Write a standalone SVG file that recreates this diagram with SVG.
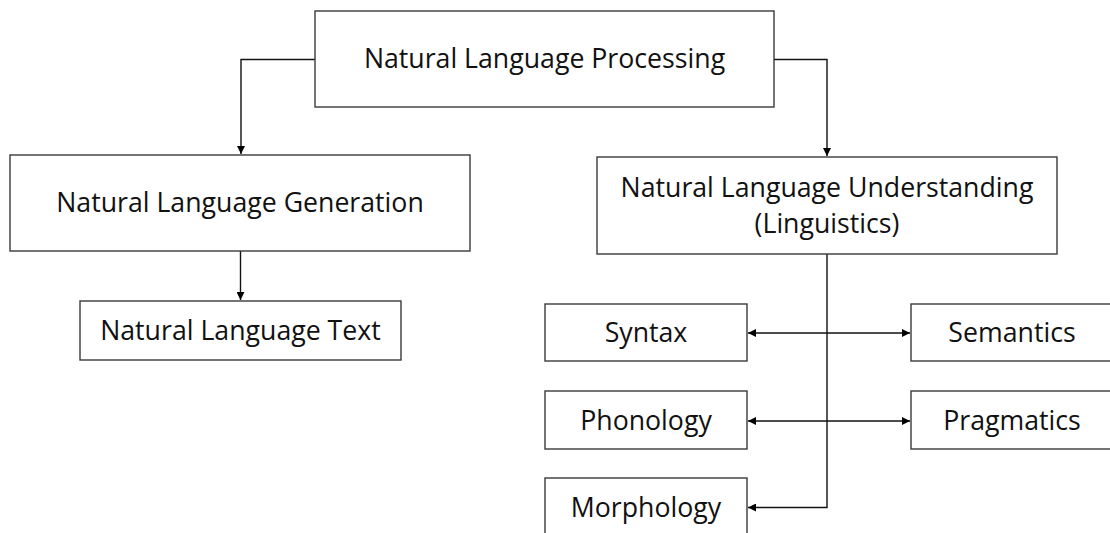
<svg xmlns="http://www.w3.org/2000/svg" width="1110" height="533" viewBox="0 0 1110 533">
<defs>
<marker id="arr" viewBox="0 0 10 10" refX="10" refY="5" markerWidth="9" markerHeight="8" markerUnits="userSpaceOnUse" orient="auto-start-reverse">
<path d="M0,0 L10,5 L0,10 z" fill="#000"/>
</marker>
<style>
.box{fill:#fff;stroke:#3a3a3a;stroke-width:1.4}
.t{font-family:"Open Sans","Liberation Sans",sans-serif;font-size:26.7px;fill:#111;text-anchor:middle}
.c{fill:none;stroke:#111;stroke-width:1.4}
</style>
</defs>
<rect width="1110" height="533" fill="#fff"/>
<g id="connectors">
<path class="c" d="M315,59.5 H241 V154" marker-end="url(#arr)"/>
<path class="c" d="M774,59.5 H827 V156" marker-end="url(#arr)"/>
<path class="c" d="M240.5,251 V300" marker-end="url(#arr)"/>
<path class="c" d="M827,254 V507.5 H748" marker-end="url(#arr)"/>
<path class="c" d="M748,333 H910" marker-start="url(#arr)" marker-end="url(#arr)"/>
<path class="c" d="M748,421 H910" marker-start="url(#arr)" marker-end="url(#arr)"/>
</g>
<g id="nlp"><rect class="box" x="315" y="11" width="459" height="96"/><text class="t" x="544.5" y="68">Natural Language Processing</text></g>
<g id="nlg"><rect class="box" x="10" y="155" width="460" height="96"/><text class="t" x="240" y="212">Natural Language Generation</text></g>
<g id="nlt"><rect class="box" x="80" y="301" width="321" height="59"/><text class="t" x="240.5" y="340">Natural Language Text</text></g>
<g id="nlu"><rect class="box" x="597" y="157" width="460" height="97"/><text class="t" x="827" y="197">Natural Language Understanding</text><text class="t" x="827" y="233">(Linguistics)</text></g>
<g id="syntax"><rect class="box" x="545" y="304" width="202" height="57"/><text class="t" x="646" y="342">Syntax</text></g>
<g id="semantics"><rect class="box" x="911" y="304" width="202" height="57"/><text class="t" x="1012" y="342">Semantics</text></g>
<g id="phonology"><rect class="box" x="545" y="391" width="202" height="58"/><text class="t" x="646" y="430">Phonology</text></g>
<g id="pragmatics"><rect class="box" x="911" y="391" width="202" height="58"/><text class="t" x="1012" y="430">Pragmatics</text></g>
<g id="morphology"><rect class="box" x="545" y="478" width="202" height="70"/><text class="t" x="646" y="517">Morphology</text></g>
</svg>
